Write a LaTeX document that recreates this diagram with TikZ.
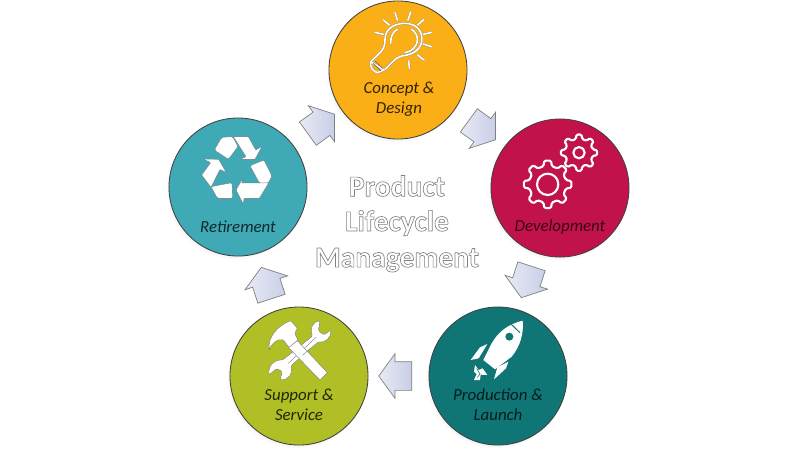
\documentclass[tikz,border=0pt]{standalone}
\usepackage{fontspec}
\setmainfont{Carlito}
\usetikzlibrary{shapes.arrows,shadows}
\definecolor{conccol}{HTML}{FBAF17}
\definecolor{devcol}{HTML}{C1134A}
\definecolor{prodcol}{HTML}{0F7575}
\definecolor{suppcol}{HTML}{AFBF25}
\definecolor{retcol}{HTML}{3FA9B5}
\definecolor{flowlight}{HTML}{E8EAF5}
\definecolor{flowdark}{HTML}{C8CEE6}
\newcommand{\hollow}[1]{\special{pdf:code 2 Tr 0.45 w 0.5 0.5 0.5 RG 1 1 1 rg}#1\special{pdf:code 0 Tr 0 w}}
\newcommand{\gearoutline}[4]{%
  \begin{scope}[shift={(#1,#2)}]
    \draw[gearline, rounded corners=1pt] (-13:#3)
      \foreach \a in {0,45,...,315} {-- ({\a-13}:#3) -- ({\a-8}:#4) -- ({\a+8}:#4) -- ({\a+13}:#3)} -- cycle;
  \end{scope}}

\begin{document}
\begin{tikzpicture}[x=0.025cm, y=-0.025cm,
  stage/.style={circle, draw=black!75, line width=0.6pt, minimum size=3.45cm, inner sep=0pt, circular drop shadow={shadow xshift=-1.5pt, shadow yshift=-1.5pt, opacity=0.25, shadow scale=1.02}},
  caption/.style={font=\itshape\fontsize{12}{14.2}\selectfont, align=center, inner sep=0pt},
  flow/.style={single arrow, draw=black!50, line width=0.5pt, left color=flowlight, right color=flowdark, minimum height=0.825cm, minimum width=1.1cm, single arrow head extend=0.2cm, single arrow tip angle=108, inner xsep=0pt, inner ysep=0.35cm},
  title/.style={font=\bfseries\fontsize{21}{26}\selectfont, inner sep=0pt},
  iconfill/.style={fill=white, draw=black!55, line width=0.25pt, line join=round},
  iconline/.style={draw=black!50, double=white, line width=0.2pt, double distance=1.15pt, line cap=round, line join=round},
  gearline/.style={draw=white, line width=1.5pt, line join=round}]
  \useasboundingbox (0,0) rectangle (800,450);

  \node[stage, fill=conccol] (conc) at (398,70) {};
  \node[stage, fill=devcol] (dev) at (560,188) {};
  \node[stage, fill=prodcol] (prod) at (498,376) {};
  \node[stage, fill=suppcol] (supp) at (299,376) {};
  \node[stage, fill=retcol] (ret) at (238,187) {};

  \node[flow, rotate=-36] (concdev) at (478,127) {};
  \node[flow, rotate=-108] (devprod) at (528,277) {};
  \node[flow, rotate=180] (prodsupp) at (400.5,376) {};
  \node[flow, rotate=108] (suppret) at (268,288) {};
  \node[flow, rotate=36] (retconc) at (317,127) {};

  \node[caption, text=black!80!conccol] (conctext) at (399,99) {Concept \&\\Design};
  \node[caption, text=black!70!devcol] (devtext) at (560,227) {Development};
  \node[caption, text=black!75!prodcol] (prodtext) at (498,405) {Production \&\\Launch};
  \node[caption, text=black!80!suppcol] (supptext) at (299,405) {Support \&\\Service};
  \node[caption, text=black!75!retcol] (rettext) at (238,227) {Retirement};

  \node[title] (product) at (397,186) {\hollow{Product}};
  \node[title] (lifecycle) at (397,223) {\hollow{Lifecycle}};
  \node[title] (management) at (397,260) {\hollow{Management}};

  % bulb
  \begin{scope}[shift={(320,0)}, scale=1/3]
    \draw[iconline] (152,185) .. controls (178,160) and (196,150) .. (195,118) .. controls (195,85) and (225,70) .. (255,70) .. controls (290,70) and (310,95) .. (305,125) .. controls (300,155) and (270,165) .. (245,168) .. controls (225,172) and (212,195) .. (192,210);
    \draw[iconline] (212,130) .. controls (212,110) and (218,95) .. (232,88);
    \draw[iconline] (255,158) .. controls (275,155) and (292,140) .. (292,118) .. controls (292,105) and (285,95) .. (275,88);
    \draw[iconline] (152,185) -- (192,210) -- (172,218) .. controls (160,215) and (148,200) .. (152,185) -- cycle;
    \foreach \x/\y/\u/\v in {165/97/190/103, 190/60/208/75, 225/38/232/60, 272/36/264/60, 312/58/293/75, 335/97/310/103, 335/140/310/132, 312/180/293/165, 268/205/266/182}
      \draw[iconline] (\x,\y) -- (\u,\v);
    \foreach \x/\y/\u/\v in {160/190/182/212, 166/183/188/205}
      \draw[black!60, line width=0.4pt] (\x,\y) -- (\u,\v);
  \end{scope}

  % gears
  \begin{scope}[shift={(480,120)}, scale=1/3]
    \draw[gearline] (203,193) circle (32);
    \draw[gearline] (297,98) circle (17);
    \gearoutline{203}{193}{56}{72}
    \gearoutline{297}{98}{42}{55}
  \end{scope}

  % recycling
  \begin{scope}[shift={(160,120)}, scale=1/3]
    \draw[iconfill, rounded corners=1pt] (163,90) -- (185,52) -- (218,50) -- (234,80) -- (205,118) -- cycle;
    \draw[iconfill, rounded corners=0.5pt] (220,50) -- (265,50) -- (287,90) -- (306,79) -- (285,118) -- (240,118) -- (258,110) -- (234,72) -- cycle;
    \draw[iconfill, rounded corners=1pt] (270,137) -- (312,120) -- (336,168) -- (325,189) -- (298,189) -- cycle;
    \draw[iconfill, rounded corners=0.5pt] (326,189) -- (298,235) -- (252,235) -- (250,252) -- (228,210) -- (250,172) -- (245,189) -- cycle;
    \draw[iconfill, rounded corners=1pt] (153,200) -- (216,188) -- (218,235) -- (172,235) -- cycle;
    \draw[iconfill, rounded corners=0.5pt] (125,165) -- (152,128) -- (130,117) -- (176,118) -- (199,158) -- (180,148) -- (153,202) -- cycle;
  \end{scope}

  % tools
  \begin{scope}[shift={(220,300)}, scale=1/3]
    \draw[iconfill, rounded corners=1pt] (300,62) .. controls (280,65) and (268,85) .. (278,108) -- (188,180) .. controls (165,178) and (145,195) .. (147,225) -- (170,205) -- (187,215) -- (180,240) .. controls (205,240) and (220,220) .. (212,198) -- (295,125) .. controls (315,130) and (335,110) .. (332,90) -- (312,105) -- (295,92) -- cycle;
    \draw[black!55, line width=0.25pt] (205,190) -- (288,112);
    \draw[iconfill, rounded corners=0.5pt] (232,122) -- (322,218) -- (300,240) -- (205,142) -- cycle;
    \draw[black!55, line width=0.25pt] (248,166) -- (270,146);
    \draw[iconfill, rounded corners=0.5pt] (148,148) .. controls (143,112) and (172,78) .. (212,62) -- (232,85) -- (224,100) -- (234,120) -- (207,142) -- (190,120) .. controls (175,116) and (158,126) .. cycle;
  \end{scope}

  % rocket
  \begin{scope}[shift={(380,300)}, scale=1/3]
    \fill[white] (428,62) .. controls (385,72) and (355,95) .. (335,130) -- (310,180) -- (345,208) -- (395,170) .. controls (420,140) and (432,100) .. cycle;
    \fill[prodcol] (388,110) circle (12);
    \draw[prodcol, line width=0.7pt] (393,72) -- (420,98);
    \fill[white] (272,180) -- (300,142) -- (322,132) -- (296,175) -- cycle;
    \fill[white] (342,238) -- (352,202) -- (385,185) -- (378,205) -- cycle;
    \fill[white] (285,195) -- (296,210) -- (308,205) -- (322,225) -- (302,224) -- (300,240) -- (282,240) -- (290,222) -- (282,215) -- cycle;
    \draw[prodcol, line width=0.4pt] (290,205) -- (300,222) -- (292,232);
  \end{scope}
\end{tikzpicture}
\end{document}
